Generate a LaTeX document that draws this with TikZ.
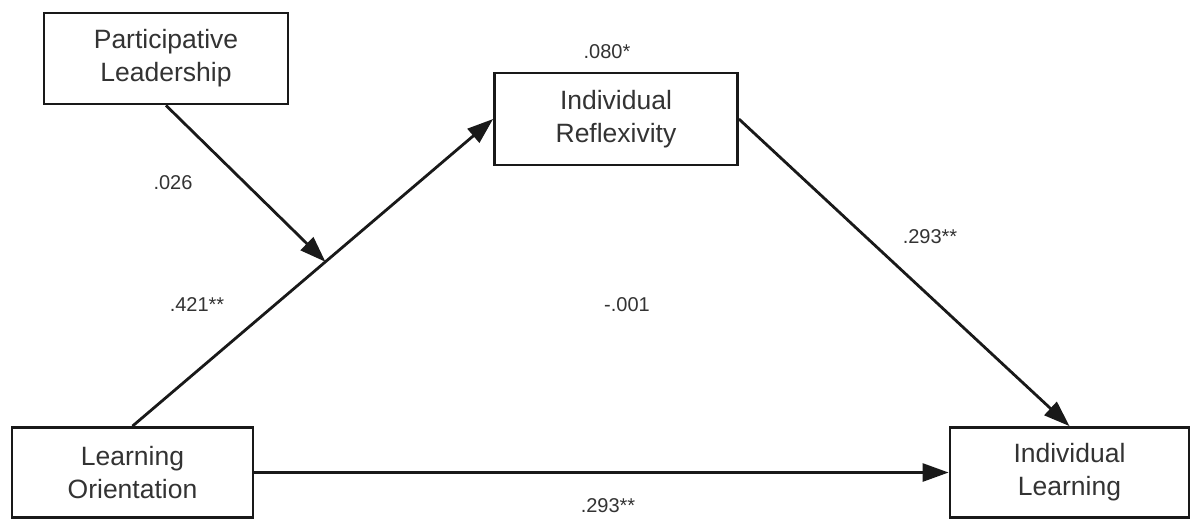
\documentclass[tikz,border=0pt]{standalone}
\usepackage{fontspec}
\setmainfont{Liberation Sans}
\usetikzlibrary{arrows.meta,calc}
\begin{document}
\begin{tikzpicture}[x=1pt,y=-1pt,
  box/.style={draw=black!90, line width=2.8pt, inner sep=0pt, align=center,
    text=black!80, font=\fontsize{26.5}{33}\selectfont},
  conn/.style={line width=2.8pt, draw=black!90, -{Triangle[length=26pt,width=18pt]}},
  lbl/.style={text=black!80, font=\fontsize{20}{24}\selectfont, inner sep=0pt}]
\useasboundingbox (0,0) rectangle (1191,520);
\fill[white] (0,0) rectangle (1191,520);
\node[box, minimum width=244pt, minimum height=91pt] (PL) at (166,58.5) {Participative\\Leadership};
\node[box, minimum width=243pt, minimum height=92pt] (IR) at (616,119) {Individual\\Reflexivity};
\node[box, minimum width=241pt, minimum height=90pt] (LO) at (132.5,472.5) {Learning\\Orientation};
\node[box, minimum width=239pt, minimum height=90pt] (IL) at (1069.5,472.5) {Individual\\Learning};
\coordinate (M) at ($(LO.north)!0.535!(IR.west)$);
\draw[conn] (LO.north) -- (IR.west);
\draw[conn] (PL.south) -- (M);
\draw[conn] (IR.east) -- (IL.north);
\draw[conn] (LO.east) -- (IL.west);
\node[lbl] (l1) at (607,52) {.080*};
\node[lbl] (l2) at (173,183) {.026};
\node[lbl] (l3) at (197,305) {.421**};
\node[lbl] (l4) at (627,305) {-.001};
\node[lbl] (l5) at (930,237) {.293**};
\node[lbl] (l6) at (608,506) {.293**};
\end{tikzpicture}
\end{document}
